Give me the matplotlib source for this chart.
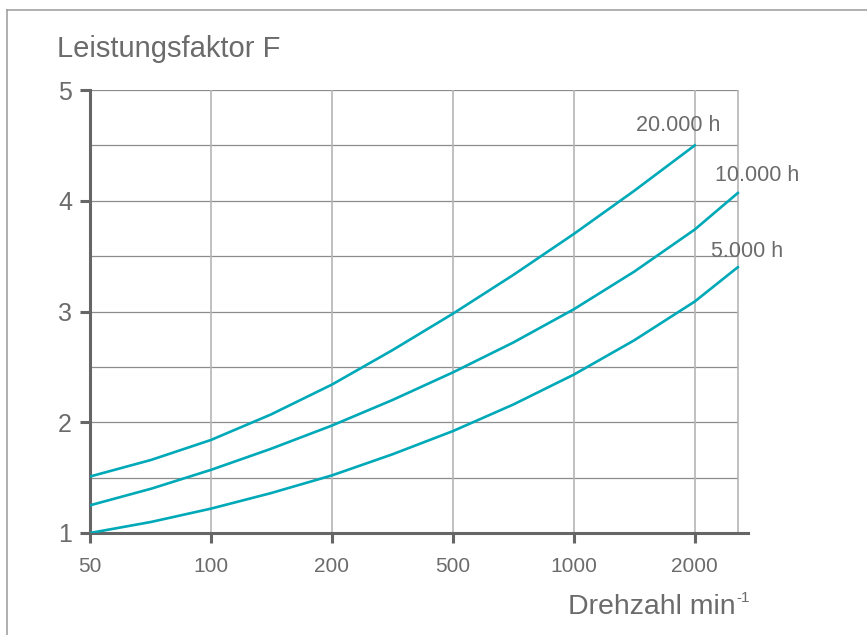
import numpy as np
import matplotlib.pyplot as plt
from matplotlib.lines import Line2D

plt.rcParams['font.family'] = ['Liberation Sans', 'DejaVu Sans']

# Drehzahl (min^-1) and Leistungsfaktor F for each service life
tick_speeds = [50, 100, 200, 500, 1000, 2000]
speeds = [50, 71, 100, 141, 200, 316, 500, 707, 1000, 1414, 2000, 2560]
f_20000 = [1.51, 1.66, 1.84, 2.07, 2.34, 2.65, 2.98, 3.33, 3.70, 4.09, 4.50]
f_10000 = [1.25, 1.40, 1.57, 1.76, 1.97, 2.20, 2.45, 2.72, 3.02, 3.36, 3.74, 4.07]
f_5000 = [1.00, 1.10, 1.22, 1.36, 1.52, 1.71, 1.92, 2.16, 2.43, 2.74, 3.09, 3.40]
labels = ['20.000 h', '10.000 h', '5.000 h']

TEXT = '#6b6b6b'
LINE = '#00a9b8'

# axis with equally spaced ticks 50/100/200/500/1000/2000 (piecewise log)
knots = np.log([50, 100, 200, 500, 1000, 2000, 4000])
kpos = np.arange(len(knots))

def fwd(x):
    x = np.clip(np.asarray(x, dtype=float), 1e-9, None)
    return np.interp(np.log(x), knots, kpos, left=-1, right=7)

def inv(p):
    return np.exp(np.interp(p, kpos, knots))

fig = plt.figure(figsize=(8.67, 6.35), dpi=100)
ax = fig.add_axes([90 / 867, 102 / 635, 658 / 867, 443 / 635])
ax.set_xscale('function', functions=(fwd, inv))

x_end = speeds[-1]
ax.set_xlim(50, 2714)
ax.set_ylim(1, 5)

# grid
ax.hlines(np.arange(1.5, 5.01, 0.5), 50, x_end, color='#8c8c8c', lw=0.9, zorder=1)
ax.vlines(tick_speeds[1:] + [x_end], 1, 5, color='#b5b5b5', lw=1.2, zorder=1)

ax.plot(speeds[:len(f_20000)], f_20000, color=LINE, lw=1.9, zorder=3)
ax.plot(speeds, f_10000, color=LINE, lw=1.9, zorder=3)
ax.plot(speeds, f_5000, color=LINE, lw=1.9, zorder=3)

ends = [(speeds[len(f_20000) - 1], f_20000[-1]), (speeds[-1], f_10000[-1]), (speeds[-1], f_5000[-1])]
offsets = [(-17, 20), (19, 17), (9, 16)]
for lab, (ex, ey), off in zip(labels, ends, offsets):
    ax.annotate(lab, (ex, ey), xytext=off, textcoords='offset pixels',
                ha='center', va='center', fontsize=15.5, color=TEXT)

ax.set_xticks(tick_speeds)
ax.set_xticklabels([str(s) for s in tick_speeds])
ax.xaxis.set_minor_locator(plt.NullLocator())
ax.set_yticks([1, 2, 3, 4, 5])
ax.set_yticklabels(['1', '2', '3', '4', '5'])

for s in ['top', 'right']:
    ax.spines[s].set_visible(False)
for s in ['left', 'bottom']:
    ax.spines[s].set_color('#666666')
    ax.spines[s].set_linewidth(2.2)
ax.tick_params(axis='both', colors='#666666', width=2.2, length=7, labelcolor=TEXT)
ax.tick_params(axis='x', labelsize=15, pad=10)
ax.tick_params(axis='y', labelsize=18, pad=6)

fig.text(57 / 867, 1 - 49 / 635, 'Leistungsfaktor F', fontsize=21, color=TEXT,
         ha='left', va='center')
fig.text(736 / 867, 1 - 607 / 635, 'Drehzahl min', fontsize=20.5, color=TEXT,
         ha='right', va='center')
fig.text(736.5 / 867, 1 - 598 / 635, '-1', fontsize=11, color=TEXT,
         ha='left', va='center')

# frame lines top and left
fig.add_artist(Line2D([7 / 867, 1], [1 - 9.5 / 635] * 2, color='#9a9a9a', lw=1.1))
fig.add_artist(Line2D([7 / 867] * 2, [0, 1 - 9.5 / 635], color='#9a9a9a', lw=1.1))

fig.savefig('out.png', dpi=100)
